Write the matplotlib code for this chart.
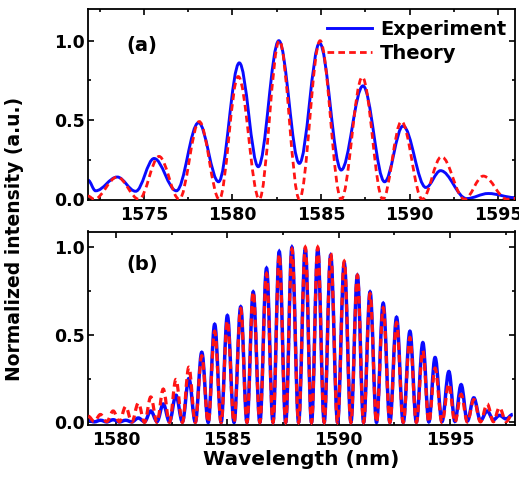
import matplotlib
matplotlib.use("Agg")
import matplotlib.pyplot as plt
from matplotlib.path import Path
from matplotlib.patches import PathPatch
from matplotlib.lines import Line2D
from matplotlib.ticker import MultipleLocator

# (a) turning points (max / min) of the measured and simulated spectra
a_exp_x = [1571.85, 1572.28, 1573.5, 1574.54, 1575.58, 1576.84, 1578.09, 1579.22, 1580.39,
           1581.46, 1582.62, 1583.78, 1584.92, 1586.14, 1587.37, 1588.59, 1589.63, 1590.92,
           1591.75, 1593.22, 1594.44, 1595.95]
a_exp_y = [0.12, 0.053, 0.14, 0.05, 0.257, 0.053, 0.483, 0.11, 0.86,
           0.205, 1.0, 0.226, 0.985, 0.184, 0.715, 0.11, 0.462, 0.074,
           0.18, 0.004, 0.036, 0.01]
a_theory_x = [1571.85, 1572.2, 1573.5, 1574.73, 1575.86, 1577.0, 1578.13, 1579.26, 1580.33,
              1581.52, 1582.65, 1583.78, 1584.95, 1586.14, 1587.33, 1588.49, 1589.54, 1590.72,
              1591.8, 1593.1, 1594.16, 1595.5, 1595.95]
a_theory_y = [0.02, 0.0, 0.14, 0.0, 0.27, 0.0, 0.49, 0.0, 0.774,
              0.0, 1.0, 0.0, 1.0, 0.0, 0.77, 0.0, 0.49, 0.0,
              0.268, 0.0, 0.146, 0.0, 0.005]

# (b) fringe maxima and minima
b_peak_x = [1578.75, 1579.3, 1579.87, 1580.43, 1581.0, 1581.56, 1582.12, 1582.69, 1583.27,
            1583.85, 1584.43, 1585.0, 1585.6, 1586.16, 1586.76, 1587.33, 1587.9, 1588.5,
            1589.06, 1589.64, 1590.25, 1590.84, 1591.41, 1592.0, 1592.6, 1593.2, 1593.78,
            1594.33, 1594.95, 1595.5, 1596.07, 1596.67, 1597.22, 1597.82]
b_exp_peak = [0.012, 0.012, 0.015, 0.012, 0.025, 0.065, 0.105, 0.155, 0.25,
              0.40, 0.56, 0.61, 0.66, 0.745, 0.88, 0.975, 1.0, 0.99,
              0.99, 0.955, 0.91, 0.84, 0.745, 0.68, 0.60, 0.52, 0.455,
              0.37, 0.29, 0.215, 0.14, 0.065, 0.04, 0.045]
b_theory_peak = [0.035, 0.045, 0.065, 0.09, 0.11, 0.145, 0.19, 0.245, 0.315,
                 0.38, 0.52, 0.58, 0.65, 0.745, 0.85, 0.96, 0.99, 1.0,
                 1.0, 0.965, 0.92, 0.84, 0.735, 0.655, 0.57, 0.485, 0.41,
                 0.31, 0.22, 0.16, 0.13, 0.105, 0.085, 0.05]
b_valley_x = [1579.02, 1579.58, 1580.15, 1580.71, 1581.28, 1581.84, 1582.4, 1582.98, 1583.56,
              1584.14, 1584.72, 1585.3, 1585.88, 1586.46, 1587.05, 1587.62, 1588.2, 1588.78,
              1589.35, 1589.95, 1590.55, 1591.12, 1591.7, 1592.3, 1592.9, 1593.49, 1594.05,
              1594.64, 1595.22, 1595.78, 1596.37, 1596.95, 1597.52]
b_exp_valley = [0.003, 0.003, 0.003, 0.003, 0.004, 0.005, 0.004, 0.003, 0.002,
                0.0, 0.0, 0.0, 0.0, 0.0, 0.0, 0.0, 0.0, 0.0,
                0.0, 0.0, 0.0, 0.0, 0.0, 0.0, 0.0, 0.002, 0.003,
                0.005, 0.006, 0.008, 0.01, 0.015, 0.02]
b_theory_valley = [0.005, 0.004, 0.003, 0.002, 0.0, 0.0, 0.0, 0.0, 0.0,
                   0.0, 0.0, 0.0, 0.0, 0.0, 0.0, 0.0, 0.0, 0.0,
                   0.0, 0.0, 0.0, 0.0, 0.0, 0.0, 0.0, 0.0, 0.0,
                   0.0, 0.0, 0.002, 0.003, 0.004, 0.005]

BLUE = "#0a0aff"
RED = "#ff1414"
DASH = (0, (2.4, 1.5))

plt.rcParams["font.family"] = "DejaVu Sans"
plt.rcParams["font.weight"] = "bold"


def alternate(px, py, vx, vy):
    """Interleave maxima and minima into one ordered list."""
    xs, ys = [], []
    for i in range(len(px)):
        xs.append(px[i]); ys.append(py[i])
        if i < len(vx):
            xs.append(vx[i]); ys.append(vy[i])
    return xs, ys


def fringe_patch(ax, xs, ys, **kw):
    """Smooth curve through turning points (flat tangents at each extremum)."""
    k = 0.36
    verts = [(xs[0], ys[0])]
    codes = [Path.MOVETO]
    for x0, y0, x1, y1 in zip(xs[:-1], ys[:-1], xs[1:], ys[1:]):
        dx = x1 - x0
        verts += [(x0 + k * dx, y0), (x1 - k * dx, y1), (x1, y1)]
        codes += [Path.CURVE4] * 3
    patch = PathPatch(Path(verts, codes), fill=False, **kw)
    ax.add_patch(patch)
    return patch


def style_axes(ax, xlim, ylim):
    ax.set_xlim(*xlim)
    ax.set_ylim(*ylim)
    ax.xaxis.set_major_locator(MultipleLocator(5))
    ax.xaxis.set_minor_locator(MultipleLocator(2.5))
    ax.yaxis.set_major_locator(MultipleLocator(0.5))
    ax.yaxis.set_minor_locator(MultipleLocator(0.25))
    ax.tick_params(which="both", direction="in", top=True, right=True, width=1.2)
    ax.tick_params(which="major", length=4.5, labelsize=12.5, pad=4)
    ax.tick_params(axis="y", which="major", pad=2)
    ax.tick_params(which="minor", length=2.5)
    ax.yaxis.set_major_formatter(plt.FormatStrFormatter("%.1f"))
    for s in ax.spines.values():
        s.set_linewidth(1.3)


fig = plt.figure(figsize=(5.19, 4.78), dpi=100)
ax_a = fig.add_axes([88 / 519, 1 - 200 / 478, 427 / 519, 191 / 478])
ax_b = fig.add_axes([88 / 519, 1 - 425 / 478, 427 / 519, 193.5 / 478])

# panel (a)
fringe_patch(ax_a, a_exp_x, a_exp_y, edgecolor=BLUE, lw=2.1, zorder=2)
fringe_patch(ax_a, a_theory_x, a_theory_y, edgecolor=RED, lw=2.0, ls=DASH, zorder=3)
style_axes(ax_a, (1571.85, 1595.95), (-0.005, 1.2))
ax_a.text(0.125, 0.81, "(a)", transform=ax_a.transAxes, ha="center", va="center",
          fontsize=14, fontweight="bold")
handles = [Line2D([], [], color=BLUE, lw=2.1),
           Line2D([], [], color=RED, lw=2.0, ls=DASH)]
ax_a.legend(handles, ["Experiment", "Theory"], loc="upper right", frameon=False,
            bbox_to_anchor=(1.02, 1.035), fontsize=14, handlelength=2.3,
            handletextpad=0.4, labelspacing=0.25)

# panel (b)
bx, by = alternate(b_peak_x, b_exp_peak, b_valley_x, b_exp_valley)
fringe_patch(ax_b, bx, by, edgecolor=BLUE, lw=2.5, zorder=2)
tx, ty = alternate(b_peak_x, b_theory_peak, b_valley_x, b_theory_valley)
fringe_patch(ax_b, tx, ty, edgecolor=RED, lw=2.3, ls=DASH, zorder=3)
style_axes(ax_b, (1578.74, 1597.92), (-0.015, 1.09))
ax_b.text(0.127, 0.83, "(b)", transform=ax_b.transAxes, ha="center", va="center",
          fontsize=14, fontweight="bold")
ax_b.set_xlabel("Wavelength (nm)", fontsize=14.5, fontweight="bold", labelpad=1)

fig.text(0.028, 0.5, "Normalized intensity (a.u.)", rotation=90, ha="center", va="center",
         fontsize=13.5, fontweight="bold")

fig.savefig("out.png", dpi=100)
